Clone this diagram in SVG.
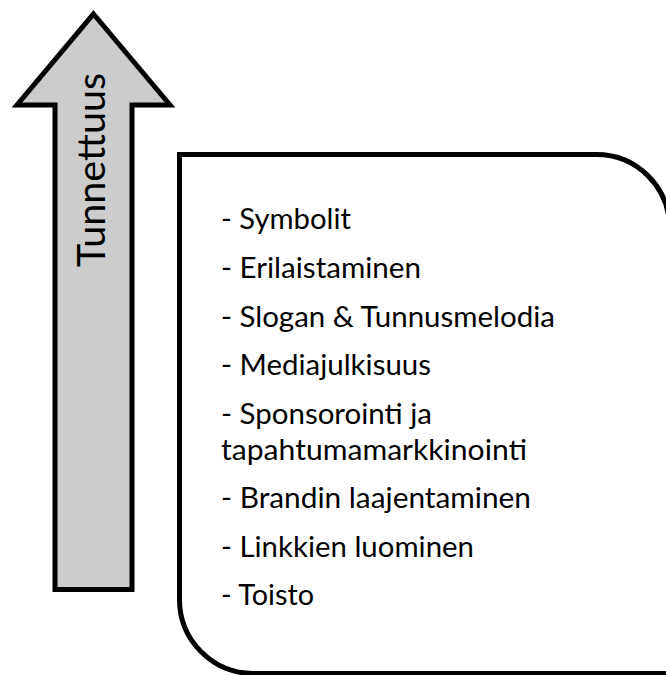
<svg xmlns="http://www.w3.org/2000/svg" width="666" height="675" viewBox="0 0 666 675">
  <style>
    .shape { stroke: #000000; stroke-width: 5; stroke-linejoin: miter; }
    .item { font-family: Lato, "Open Sans", "Liberation Sans", sans-serif; font-size: 29px; fill: #000000; }
    .axis { font-family: Lato, "Open Sans", "Liberation Sans", sans-serif; font-size: 38px; fill: #000000; }
  </style>
  <g id="arrow">
    <polygon class="shape" fill="#cccccc" points="93.5,14 170,105 132,105 132,589.5 55,589.5 55,105 17,105"/>
    <text class="axis" transform="translate(105,267) rotate(-90)" x="0" y="0" textLength="194" lengthAdjust="spacingAndGlyphs">Tunnettuus</text>
  </g>
  <g id="box">
    <path class="shape" fill="#ffffff" d="M179.5,154.5 H596.5 A73,73 0 0 1 669.5,227.5 V673.5 H253.5 A74,74 0 0 1 179.5,599.5 Z"/>
    <text class="item" x="221" y="229" textLength="130" lengthAdjust="spacingAndGlyphs">- Symbolit</text>
    <text class="item" x="221" y="278" textLength="200" lengthAdjust="spacingAndGlyphs">- Erilaistaminen</text>
    <text class="item" x="221" y="327" textLength="334" lengthAdjust="spacingAndGlyphs">- Slogan &amp; Tunnusmelodia</text>
    <text class="item" x="221" y="375" textLength="210" lengthAdjust="spacingAndGlyphs">- Mediajulkisuus</text>
    <text class="item" x="221" y="423.5" textLength="211" lengthAdjust="spacingAndGlyphs">- Sponsorointi ja</text>
    <text class="item" x="221" y="459.5" textLength="306" lengthAdjust="spacingAndGlyphs">tapahtumamarkkinointi</text>
    <text class="item" x="221" y="508" textLength="310" lengthAdjust="spacingAndGlyphs">- Brandin laajentaminen</text>
    <text class="item" x="221" y="557" textLength="253" lengthAdjust="spacingAndGlyphs">- Linkkien luominen</text>
    <text class="item" x="221" y="605" textLength="93" lengthAdjust="spacingAndGlyphs">- Toisto</text>
  </g>
</svg>
